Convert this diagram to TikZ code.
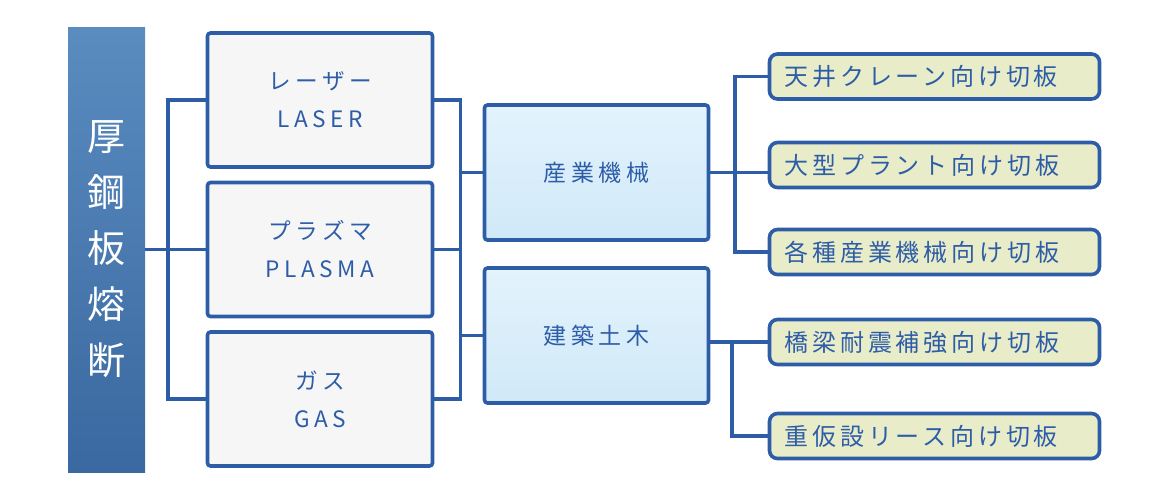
\documentclass[tikz,border=0pt]{standalone}
\usepackage{fontspec}
\setmainfont{Noto Sans CJK JP}
\newfontfamily\barfont{Noto Sans CJK JP}
\newfontfamily\methodfont[LetterSpace=20]{Noto Sans CJK JP}
\newfontfamily\targetfont[LetterSpace=16]{Noto Sans CJK JP}
\usetikzlibrary{calc}

\definecolor{lineblue}{HTML}{2E5DA8}
\definecolor{bartop}{HTML}{5A8CC0}
\definecolor{barbot}{HTML}{3A68A0}
\definecolor{methodfill}{HTML}{F6F6F6}
\definecolor{indtop}{HTML}{E3F3FC}
\definecolor{indbot}{HTML}{D0E9F8}
\definecolor{usefill}{HTML}{E8ECC8}

\tikzset{
  bar/.style={rectangle,inner sep=0pt,minimum width=38.5pt,minimum height=222.5pt,
              top color=bartop,bottom color=barbot,text=white,
              align=center,font=\barfont\fontsize{19pt}{28pt}\selectfont},
  method/.style={draw=lineblue,line width=1.8pt,fill=methodfill,rectangle,
                 rounded corners=1.5pt,inner sep=0pt,minimum width=112.5pt,
                 minimum height=67pt,align=center,text=lineblue,
                 font=\methodfont\fontsize{11.3pt}{19pt}\selectfont},
  industry/.style={draw=lineblue,line width=1.8pt,rectangle,rounded corners=1.5pt,
                   top color=indtop,bottom color=indbot,inner sep=0pt,
                   minimum width=112pt,minimum height=67.5pt,text=lineblue,
                   font=\methodfont\fontsize{11.5pt}{13pt}\selectfont},
  use/.style={draw=lineblue,line width=1.8pt,fill=usefill,rectangle,
              rounded corners=4pt,inner sep=0pt,minimum width=165pt,
              minimum height=22.5pt,text width=150pt,align=left,text=lineblue,
              font=\targetfont\fontsize{12pt}{14pt}\selectfont},
  link/.style={draw=lineblue,line width=1.8pt}}

\begin{document}
\begin{tikzpicture}[x=0.5pt,y=-0.5pt]
\useasboundingbox (0,0) rectangle (1170,500);

\node (bar) at (106.5,249.5) [bar] {厚\\鋼\\板\\熔\\断};

\node (laser)  at (320,100)   [method] {レーザー\\LASER};
\node (plasma) at (320,249.5) [method] {プラズマ\\PLASMA};
\node (gas)    at (320,399)   [method] {ガス\\GAS};

\node (sangyo)   at (596.5,172.5) [industry] {産業機械};
\node (kenchiku) at (596.5,335.5) [industry] {建築土木};

\node (crane)  at (934.5,76.5) [use] {天井クレーン向け切板};
\node (plant)  at (934.5,165)  [use] {大型プラント向け切板};
\node (kikai)  at (934.5,252)  [use] {各種産業機械向け切板};
\node (bridge) at (934.5,342)  [use] {橋梁耐震補強向け切板};
\node (lease)  at (934.5,436)  [use] {重仮設リース向け切板};

% bar -> methods
\draw [link] (bar.east) -- (plasma.west);
\draw [link] (laser.west) -- ++(-38,0) |- (gas.west);

% methods -> industries
\coordinate (mj) at ($(laser.east)+(26,0)$);
\draw [link] (laser.east) -- (mj) |- (gas.east);
\draw [link] (plasma.east) -- (plasma.east -| mj);
\draw [link] (mj |- sangyo.west) -- (sangyo.west);
\draw [link] (mj |- kenchiku.west) -- (kenchiku.west);

% industries -> uses
\draw [link] (crane.west) -- ++(-33,0) |- (kikai.west);
\draw [link] (sangyo.east) -- (sangyo.east -| plant.west);
\draw [link] (kenchiku.east |- bridge.west) -- (bridge.west);
\draw [link] (bridge.west) -- ++(-36,0) |- (lease.west);
\end{tikzpicture}
\end{document}
